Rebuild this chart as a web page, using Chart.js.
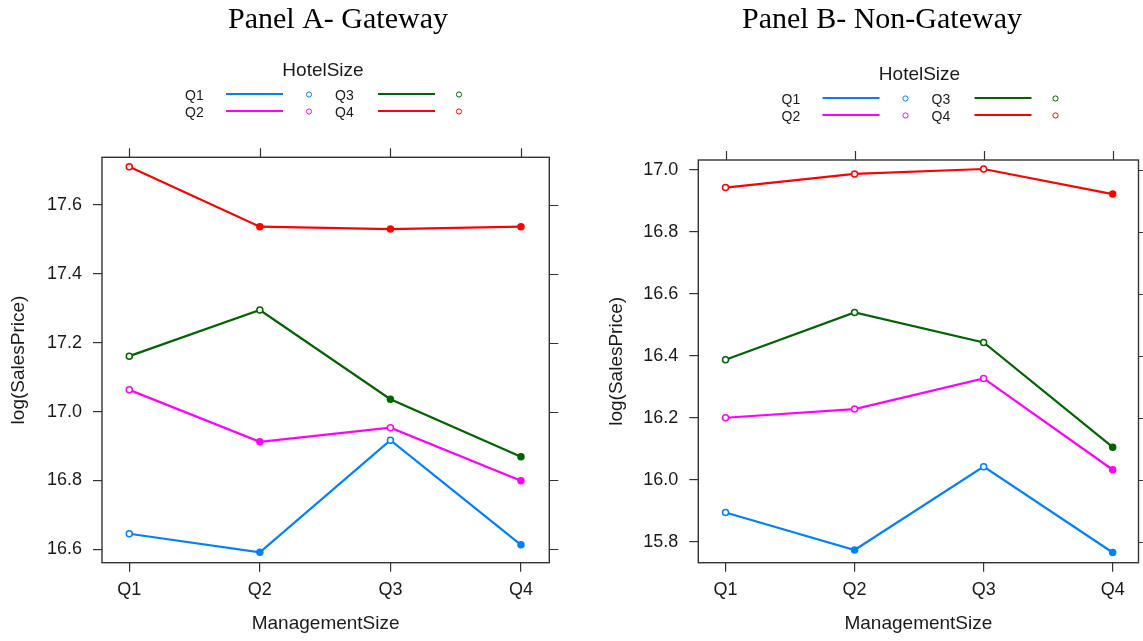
<!DOCTYPE html>
<html>
<head>
<meta charset="utf-8">
<script src="https://cdn.jsdelivr.net/npm/chart.js@4.4.1/dist/chart.umd.min.js"></script>
<style>
  html, body { margin: 0; padding: 0; background: #fff; }
  #wrap { position: relative; width: 1143px; height: 641px; overflow: hidden; }
  canvas { position: absolute; top: 0; }
  #panelA { left: 0; }
  #panelB { left: 575px; }
</style>
</head>
<body>
<div id="wrap">
  <canvas id="panelA" width="575" height="641"></canvas>
  <canvas id="panelB" width="568" height="641"></canvas>
</div>
<script>
// ---- data ----------------------------------------------------------------
const managementSize = ['Q1', 'Q2', 'Q3', 'Q4'];      // x categories
const hotelSize = ['Q1', 'Q2', 'Q3', 'Q4'];           // groups (lines)

// Panel A - Gateway: mean log(SalesPrice) per ManagementSize, one array per HotelSize group
const gatewayQ1 = [16.645, 16.591, 16.917, 16.613];
const gatewayQ2 = [17.063, 16.912, 16.953, 16.799];
const gatewayQ3 = [17.161, 17.295, 17.036, 16.869];
const gatewayQ4 = [17.711, 17.537, 17.530, 17.537];

// Panel B - Non-Gateway
const nonGatewayQ1 = [15.894, 15.773, 16.042, 15.765];
const nonGatewayQ2 = [16.200, 16.228, 16.327, 16.032];
const nonGatewayQ3 = [16.387, 16.540, 16.443, 16.105];
const nonGatewayQ4 = [16.943, 16.987, 17.003, 16.922];

// y tick labels
const gatewayTicks = [16.6, 16.8, 17.0, 17.2, 17.4, 17.6];
const nonGatewayTicks = [15.8, 16.0, 16.2, 16.4, 16.6, 16.8, 17.0];

// ---- styling -------------------------------------------------------------
const groupColors = ['#0080ff', '#ff00ff', '#006400', '#ff0000'];
// which markers render solid (true) vs hollow (false)
const gatewaySolid = [
  [false, true, false, true],
  [false, true, false, true],
  [false, false, true, true],
  [false, true, true, true]
];
const nonGatewaySolid = [
  [false, true, false, true],
  [false, false, false, true],
  [false, false, false, true],
  [false, false, false, true]
];

const SANS = '"Liberation Sans", Arial, sans-serif';
const SERIF = '"Liberation Serif", "Times New Roman", serif';
const AXIS_COLOR = '#333333';

// Draws the lattice-style frame, the extra top/right ticks, the titles and the key
const framePlugin = {
  id: 'latticeFrame',
  afterDraw(chart, args, opts) {
    const ctx = chart.ctx;
    const a = chart.chartArea;
    const xs = chart.scales.x, ys = chart.scales.y;
    ctx.save();

    // panel box
    ctx.strokeStyle = AXIS_COLOR;
    ctx.lineWidth = 1.4;
    ctx.strokeRect(a.left, a.top, a.right - a.left, a.bottom - a.top);

    // ticks on top and right sides
    ctx.lineWidth = 1.2;
    ctx.beginPath();
    xs.ticks.forEach(t => {
      const px = Math.round(xs.getPixelForValue(t.value)) + 0.5;
      ctx.moveTo(px, a.top);
      ctx.lineTo(px, a.top - 9);
    });
    ys.ticks.forEach(t => {
      const py = Math.round(ys.getPixelForValue(t.value)) + 0.5;
      ctx.moveTo(a.right, py);
      ctx.lineTo(a.right + 9, py);
    });
    ctx.stroke();

    // panel heading
    ctx.fillStyle = '#000';
    ctx.font = '30px ' + SERIF;
    ctx.textAlign = 'center';
    ctx.textBaseline = 'alphabetic';
    ctx.fillText(opts.heading, opts.headingX, 28);

    // axis titles
    const cx = (a.left + a.right) / 2;
    const cy = (a.top + a.bottom) / 2;
    ctx.fillStyle = '#1a1a1a';
    ctx.font = '19px ' + SANS;
    ctx.textBaseline = 'middle';
    ctx.fillText('ManagementSize', cx, 624);
    ctx.save();
    ctx.translate(opts.yTitleX, cy);
    ctx.rotate(-Math.PI / 2);
    ctx.fillText('log(SalesPrice)', 0, 0);
    ctx.restore();

    // key
    const lx = opts.keyX, ty = opts.keyY;
    ctx.font = '19px ' + SANS;
    ctx.textAlign = 'center';
    ctx.fillText('HotelSize', lx, ty);
    ctx.font = '14px ' + SANS;
    const cols = [
      { text: -138, l0: -97, l1: -40, pt: -14 },
      { text: 12, l0: 55, l1: 112, pt: 136 }
    ];
    hotelSize.forEach((name, i) => {
      const col = cols[Math.floor(i / 2)];
      const rowY = ty + 24 + (i % 2) * 17;
      ctx.fillStyle = '#1a1a1a';
      ctx.textAlign = 'left';
      ctx.fillText(name, lx + col.text, rowY + 1.5);
      ctx.strokeStyle = groupColors[i];
      ctx.lineWidth = 2.2;
      ctx.beginPath();
      ctx.moveTo(lx + col.l0, rowY - 1);
      ctx.lineTo(lx + col.l1, rowY - 1);
      ctx.stroke();
      ctx.lineWidth = 1;
      ctx.beginPath();
      ctx.arc(lx + col.pt, rowY - 0.5, 2.6, 0, Math.PI * 2);
      ctx.stroke();
    });

    ctx.restore();
  }
};

function makePanel(canvasId, cfg) {
  const canvas = document.getElementById(canvasId);
  const W = canvas.width, H = canvas.height;
  return new Chart(canvas, {
    type: 'line',
    data: {
      datasets: cfg.series.map((vals, i) => ({
        label: hotelSize[i],
        data: vals.map((v, j) => ({ x: j + 1, y: v })),
        borderColor: groupColors[i],
        borderWidth: 2.2,
        tension: 0,
        fill: false,
        order: 3 - i,
        pointRadius: 3,
        pointHoverRadius: 3,
        pointBorderWidth: 1.5,
        pointBorderColor: groupColors[i],
        pointBackgroundColor: cfg.solid[i].map(s => s ? groupColors[i] : '#ffffff')
      }))
    },
    options: {
      responsive: false,
      animation: false,
      devicePixelRatio: 1,
      events: [],
      layout: { padding: { left: 0, top: cfg.top, right: W - cfg.right, bottom: 0 } },
      plugins: {
        legend: { display: false },
        tooltip: { enabled: false },
        latticeFrame: cfg.frame
      },
      scales: {
        x: {
          type: 'linear',
          min: cfg.xMin,
          max: cfg.xMax,
          afterBuildTicks: s => { s.ticks = managementSize.map((_, i) => ({ value: i + 1 })); },
          afterFit: s => { s.height = H - cfg.bottom; },
          ticks: {
            callback: v => managementSize[v - 1],
            font: { family: SANS, size: 18 },
            color: '#1a1a1a',
            padding: 8,
            maxRotation: 0,
            autoSkip: false
          },
          grid: { drawOnChartArea: false, drawTicks: true, tickLength: 9, color: AXIS_COLOR, lineWidth: 1.2 },
          border: { display: false }
        },
        y: {
          type: 'linear',
          min: cfg.yMin,
          max: cfg.yMax,
          afterBuildTicks: s => { s.ticks = cfg.ticks.map(v => ({ value: v })); },
          afterFit: s => { s.width = cfg.left; },
          ticks: {
            callback: v => v.toFixed(1),
            font: { family: SANS, size: 18 },
            color: '#1a1a1a',
            padding: 11,
            autoSkip: false
          },
          grid: { drawOnChartArea: false, drawTicks: true, tickLength: 9, color: AXIS_COLOR, lineWidth: 1.2 },
          border: { display: false }
        }
      }
    },
    plugins: [framePlugin]
  });
}

makePanel('panelA', {
  series: [gatewayQ1, gatewayQ2, gatewayQ3, gatewayQ4],
  solid: gatewaySolid,
  ticks: gatewayTicks,
  yMin: 16.561, yMax: 17.7385,
  xMin: 0.791, xMax: 4.217,
  left: 102, right: 549.3, top: 157.3, bottom: 562.7,
  frame: { heading: 'Panel A- Gateway', headingX: 338, yTitleX: 19, keyX: 323, keyY: 71 }
});

makePanel('panelB', {
  series: [nonGatewayQ1, nonGatewayQ2, nonGatewayQ3, nonGatewayQ4],
  solid: nonGatewaySolid,
  ticks: nonGatewayTicks,
  yMin: 15.732, yMax: 17.032,
  xMin: 0.789, xMax: 4.2,
  left: 123.3, right: 566.7, top: 160, bottom: 562.7,
  frame: { heading: 'Panel B- Non-Gateway', headingX: 307, yTitleX: 42, keyX: 344.5, keyY: 75 }
});
</script>
</body>
</html>
